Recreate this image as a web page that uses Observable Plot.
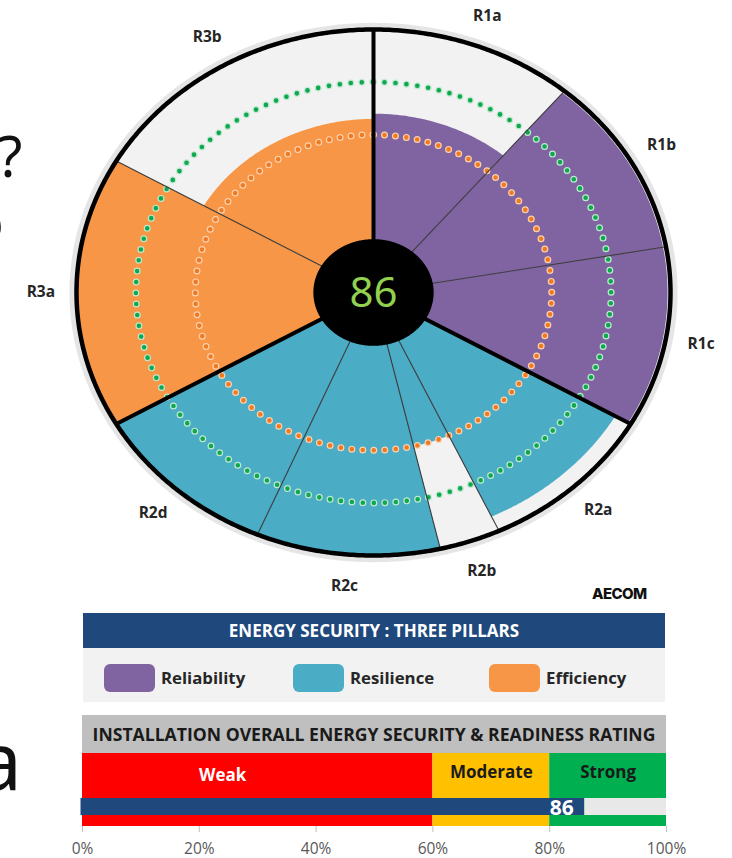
<!DOCTYPE html>
<html><head><meta charset="utf-8">
<script src="https://cdn.jsdelivr.net/npm/d3@7"></script>
<script src="https://cdn.jsdelivr.net/npm/@observablehq/plot@0.6"></script>
<style>
html,body{margin:0;padding:0;background:#fff;}
body{width:732px;height:858px;position:relative;overflow:hidden;font-family:"Open Sans",sans-serif;}
.abs{position:absolute;}
.slide{position:absolute;font-family:"Noto Sans",sans-serif;color:#111;line-height:1;white-space:nowrap;}
#pillHead{left:83px;top:613px;width:582px;height:35px;background:#1f497d;color:#fff;font-weight:700;font-size:17px;line-height:35px;text-align:center;}
#legend{left:83px;top:648px;width:582px;height:54px;background:#f2f2f2;}
.sw{position:absolute;top:16px;width:51px;height:28px;border-radius:6px;}
.lt{position:absolute;top:16px;line-height:28px;font-weight:700;font-size:16.8px;color:#262626;}
#ratHead{left:82px;top:715px;width:584px;height:38px;background:#bfbfbf;color:#1a1a1a;font-weight:700;font-size:17.6px;line-height:38px;text-align:center;}
#logo{left:592px;top:584px;font-family:Inter,sans-serif;font-weight:800;font-size:15px;letter-spacing:-0.6px;color:#111;}
#rating g[aria-label="x-axis tick label"], #rating g[aria-label="x-axis tick label"] text{font-size:15.5px !important;}
</style></head><body>
<div class="slide" style="left:-2px;top:127px;font-size:56px;">?</div>
<div class="slide" style="left:-30px;top:192px;font-size:56px;">o</div>
<div class="slide" style="left:-23px;top:719px;font-size:80px;">a</div>
<div id="polar" class="abs" style="left:0;top:0;clip-path:inset(0 12px 0 18px);"></div>
<div id="logo" class="abs">AECOM</div>
<div id="pillHead" class="abs">ENERGY SECURITY : THREE PILLARS</div>
<div id="legend" class="abs"></div>
<div id="ratHead" class="abs">INSTALLATION OVERALL ENERGY SECURITY &amp; READINESS RATING</div>
<div id="rating" class="abs" style="left:0;top:753px;"></div>
<script>
// ---- data ----
const categories = ["R1a","R1b","R1c","R2a","R2b","R2c","R2d","R3a","R3b"];
const categoryPillar = ["Reliability","Reliability","Reliability","Resilience","Resilience","Resilience","Resilience","Efficiency","Efficiency"];
const categoryScores = [68, 99, 99, 94, 60, 100, 100, 100, 66];
const categoryWeights = [40, 40, 40, 35, 12, 36, 37, 60, 60]; // angular share (degrees)
const pillars = ["Reliability","Resilience","Efficiency"];
const pillarColors = ["#8064a2","#4bacc6","#f79646"];
const referenceLevels = [60, 80];
const referenceColors = ["#f07a22","#0ea84f"];
const referenceHalos = ["#fbd2b0","#bfe8cf"];
const overallScore = 86;
const ratingBands = ["Weak","Moderate","Strong"];
const ratingStarts = [0, 60, 80];
const ratingEnds = [60, 80, 100];
const ratingColors = ["#ff0000","#ffc000","#00b050"];
const ratingTextColors = ["#ffffff","#1a1a1a","#1a1a1a"];
const axisTicks = [0, 20, 40, 60, 80, 100];

// ---- geometry helpers (polar -> x/y in data units) ----
const rad = d => d * Math.PI / 180;
const pt = (r, deg) => ({x: r * Math.sin(rad(deg)), y: r * Math.cos(rad(deg))});
const ring = r => d3.range(0, 360.25, 0.5).map(a => pt(r, a));

let acc = 0;
const sectors = categories.map((c, i) => {
  const a0 = acc; acc += categoryWeights[i];
  return {c, a0, a1: acc, mid: (a0 + acc) / 2, score: categoryScores[i],
          pillar: categoryPillar[i], color: pillarColors[pillars.indexOf(categoryPillar[i])]};
});
const wedgePts = sectors.flatMap(s => {
  const pts = [pt(0, 0)];
  for (let a = s.a0; a <= s.a1 + 1e-9; a += 0.5) pts.push(pt(s.score / 100, a));
  pts.push(pt(0, 0));
  return pts.map(p => ({...p, id: s.c, color: s.color}));
});
const boundaries = sectors.map((s, i) => ({a: s.a0, major: i === 0 || sectors[i - 1].pillar !== s.pillar}));
const minorB = boundaries.filter(b => !b.major);
const majorB = boundaries.filter(b => b.major);

const refMarks = referenceLevels.flatMap((lv, i) => [
  Plot.line(ring(lv / 100), {x: "x", y: "y", stroke: referenceHalos[i], strokeWidth: 7, strokeLinecap: "round", strokeDasharray: "0 11"}),
  Plot.line(ring(lv / 100), {x: "x", y: "y", stroke: referenceColors[i], strokeWidth: 4.6, strokeLinecap: "round", strokeDasharray: "0 11"})
]);

const polar = Plot.plot({
  width: 732, height: 600, margin: 0,
  x: {domain: [-1, 1], range: [76, 670], axis: null},
  y: {domain: [-1, 1], range: [555, 29], axis: null},
  color: {type: "identity"},
  style: {fontFamily: "'Open Sans', sans-serif", background: "transparent"},
  marks: [
    Plot.line(ring(1.012), {x: "x", y: "y", stroke: "#000", strokeOpacity: 0.1, strokeWidth: 7}),
    Plot.line(ring(1), {x: "x", y: "y", fill: "#f2f2f2", stroke: "none"}),
    Plot.line(wedgePts, {x: "x", y: "y", z: "id", fill: "color", stroke: "none"}),
    ...refMarks,
    Plot.link(minorB, {x1: 0, y1: 0, x2: d => pt(1, d.a).x, y2: d => pt(1, d.a).y, stroke: "#3a3a3a", strokeWidth: 1.1}),
    Plot.link(majorB, {x1: 0, y1: 0, x2: d => pt(1, d.a).x, y2: d => pt(1, d.a).y, stroke: "#000", strokeWidth: 4}),
    Plot.line(ring(1), {x: "x", y: "y", stroke: "#000", strokeWidth: 4.5}),
    Plot.line(ring(0.2), {x: "x", y: "y", fill: "#000", stroke: "#000"}),
    Plot.text([overallScore], {x: () => 0, y: () => 0, text: d => String(d), fontSize: 42, fill: "#92d050", fontFamily: "'Noto Sans', sans-serif", dy: 1}),
    Plot.text(sectors, {x: d => pt(1.12, d.mid).x, y: d => pt(1.12, d.mid).y, text: "c", fontSize: 15.5, fontWeight: "bold", fill: "#262626"})
  ]
});
document.getElementById("polar").appendChild(polar);

// ---- legend (HTML) ----
const legend = document.getElementById("legend");
const swLeft = [21, 210, 406];
pillars.forEach((p, i) => {
  const sw = document.createElement("div");
  sw.className = "sw"; sw.style.left = swLeft[i] + "px"; sw.style.background = pillarColors[i];
  const t = document.createElement("div");
  t.className = "lt"; t.style.left = (swLeft[i] + 57) + "px"; t.textContent = p;
  legend.appendChild(sw); legend.appendChild(t);
});

// ---- rating bar ----
const bands = ratingBands.map((b, i) => ({b, x1: ratingStarts[i], x2: ratingEnds[i], color: ratingColors[i], tc: ratingTextColors[i]}));
const rating = Plot.plot({
  width: 732, height: 105, marginLeft: 82, marginRight: 66, marginTop: 0, marginBottom: 32,
  x: {domain: [0, 100]},
  y: {type: "band", domain: ["score"], range: [45, 62], padding: 0, axis: null},
  color: {type: "identity"},
  style: {fontFamily: "'Open Sans', sans-serif", background: "transparent", overflow: "visible"},
  marks: [
    Plot.barX(bands, {x1: "x1", x2: "x2", fill: "color"}),
    Plot.barX([overallScore], {x1: 0, x2: d => d, y: () => "score", fill: "#1f497d", insetLeft: -1.5}),
    Plot.barX([overallScore], {x1: d => d, x2: 100, y: () => "score", fill: "#e8e8e8"}),
    Plot.text(bands.slice(0, 1), {x: d => (d.x1 + d.x2) / 2, text: "b", frameAnchor: "top", dy: 15, dx: -35, fill: "tc", fontSize: 17, fontWeight: "bold"}),
    Plot.text(bands.slice(1), {x: d => (d.x1 + d.x2) / 2, text: "b", frameAnchor: "top", dy: 12, fill: "tc", fontSize: 17, fontWeight: "bold"}),
    Plot.text([overallScore], {x: d => d, y: () => "score", text: d => String(d), textAnchor: "end", dx: -11, dy: 1, fill: "#fff", fontSize: 21, fontWeight: "bold"}),
    Plot.axisX({ticks: axisTicks, tickFormat: d => d + "%", tickSize: 6, tickPadding: 10, fontSize: 15.5, color: "#595959", stroke: "#bfbfbf", label: null})
  ]
});
document.getElementById("rating").appendChild(rating);
</script>
</body></html>
